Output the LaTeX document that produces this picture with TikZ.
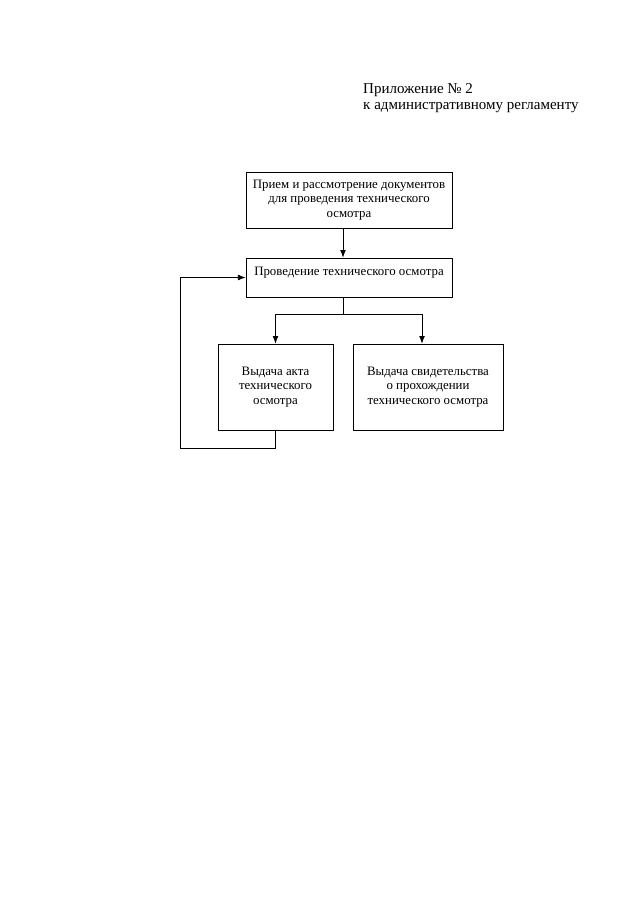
\documentclass[tikz,border=0pt]{standalone}
\usepackage{fontspec}
\setmainfont{Liberation Serif}
\usetikzlibrary{arrows.meta}
\tikzset{
  blk/.style={draw, line width=0.7pt, align=center, inner sep=2pt,
    font=\fontsize{12}{13.5}\selectfont},
  arr/.style={line width=0.7pt, -{Latex[length=2.5mm,width=1.9mm]}},
  ln/.style={line width=0.7pt}
}
\begin{document}
\begin{tikzpicture}[x=0.328125mm,y=-0.328125mm]
  \useasboundingbox (0,0) rectangle (640,905);
  % Header
  \node[anchor=north west, align=left, inner sep=0pt,
    font=\fontsize{14}{15.5}\selectfont] (hdr) at (363,83)
    {Приложение № 2\\к административному регламенту};

  % Blocks
  \node[blk, minimum width=67.6mm, minimum height=18.4mm] (priem) at (349,200)
    {Прием и рассмотрение документов\\для проведения технического\\осмотра};
  \node[blk, minimum width=67.6mm, minimum height=12.8mm, text depth=4mm] (osm) at (349,277.5)
    {Проведение технического осмотра};
  \node[blk, minimum width=37.7mm, minimum height=28.2mm] (akt) at (275.5,387)
    {Выдача акта\\технического\\осмотра};
  \node[blk, minimum width=49.2mm, minimum height=28.2mm] (svid) at (428,387)
    {Выдача свидетельства\\о прохождении\\технического осмотра};

  % Turning points
  \coordinate (split) at (343,314);
  \coordinate (back) at (180,448);

  % Connectors
  \draw[arr] (priem.south -| split) -- (osm.north -| split);
  \draw[ln] (osm.south -| split) -- (split);
  \draw[arr] (split) -| (akt.north);
  \draw[arr] (split) -| ([xshift=-6*0.328125mm]svid.north);
  \draw[arr] (akt.south) |- (back) |- (osm.west);
\end{tikzpicture}
\end{document}
